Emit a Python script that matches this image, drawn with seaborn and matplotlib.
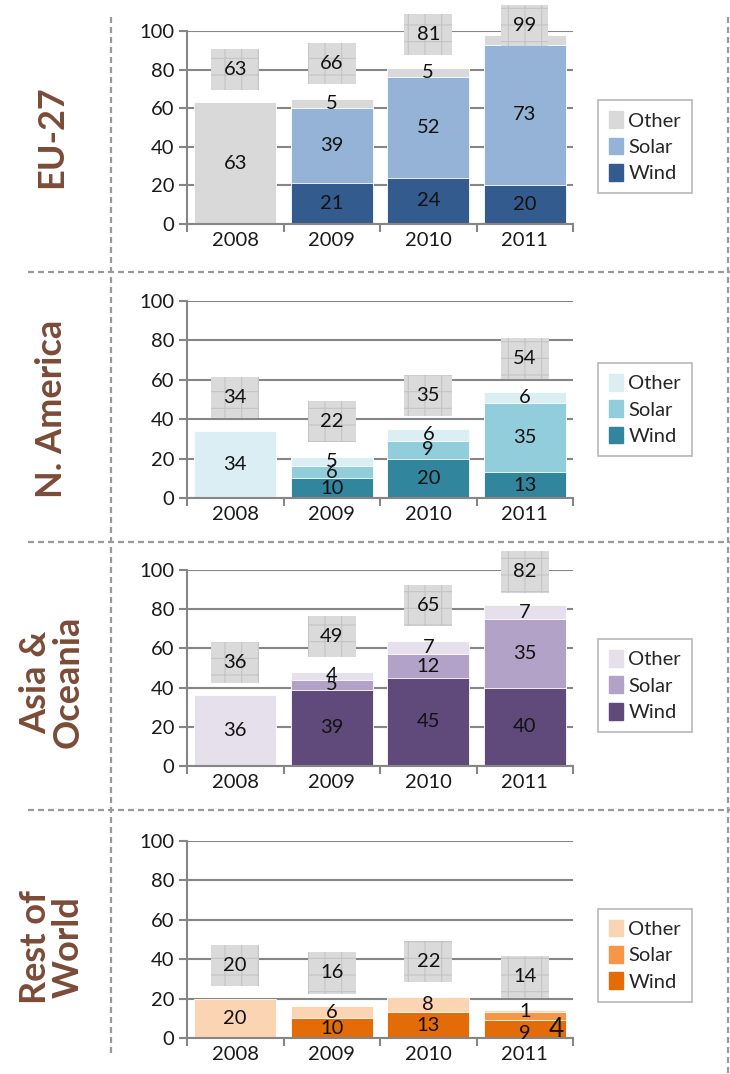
import matplotlib
matplotlib.use("Agg")
import matplotlib.pyplot as plt
import seaborn as sns
import numpy as np
from matplotlib.patches import Patch
from matplotlib.lines import Line2D

years = ["2008", "2009", "2010", "2011"]
series = ["Wind", "Solar", "Other"]

eu_wind = [0, 21, 24, 20]
eu_solar = [0, 39, 52, 73]
eu_other = [63, 5, 5, 5]
eu_total = [63, 66, 81, 99]

na_wind = [0, 10, 20, 13]
na_solar = [0, 6, 9, 35]
na_other = [34, 5, 6, 6]
na_total = [34, 22, 35, 54]

as_wind = [0, 39, 45, 40]
as_solar = [0, 5, 12, 35]
as_other = [36, 4, 7, 7]
as_total = [36, 49, 65, 82]

rw_wind = [0, 10, 13, 9]
rw_solar = [0, 0, 0, 4]
rw_other = [20, 6, 8, 1]
rw_total = [20, 16, 22, 14]

regions = ["EU-27", "N. America", "Asia &\nOceania", "Rest of\nWorld"]
colors = [
    ["#335b8e", "#95b3d7", "#d9d9d9"],
    ["#31859c", "#92cddc", "#daeef3"],
    ["#604a7b", "#b3a2c7", "#e5e0ec"],
    ["#e36c09", "#f79646", "#fbd4b4"],
]
panels = [
    (eu_wind, eu_solar, eu_other, eu_total),
    (na_wind, na_solar, na_other, na_total),
    (as_wind, as_solar, as_other, as_total),
    (rw_wind, rw_solar, rw_other, rw_total),
]

sns.set_theme(style="white")
plt.rcParams["font.family"] = ["Lato", "DejaVu Sans"]
plt.rcParams["hatch.linewidth"] = 0.8

fig = plt.figure(figsize=(7.3, 10.74), dpi=100)

# axes boxes in pixels (top of 100, bottom of 0)
ypix = [(31, 224), (301, 498), (570, 766), (841, 1038)]
label_y = [137, 409, 682, 947]
legend_y = [0.40, 0.45, 0.41, 0.42]
grey = "#868686"
fs = 14.5

for i, (wind, solar, other, total) in enumerate(panels):
    top, bot = ypix[i]
    ax = fig.add_axes([187 / 730, 1 - bot / 1074, 386 / 730, (bot - top) / 1074])
    w = np.array(wind)
    s = np.array(solar)
    o = np.array(other)
    cw, cs, co = colors[i]
    # stacked by overlaying cumulative sums
    sns.barplot(x=years, y=w + s + o, color=co, saturation=1, width=0.85, ax=ax,
                zorder=2, linewidth=0.6, edgecolor="white")
    sns.barplot(x=years, y=w + s, color=cs, saturation=1, width=0.85, ax=ax,
                zorder=2, linewidth=0.6, edgecolor="white")
    sns.barplot(x=years, y=w, color=cw, saturation=1, width=0.85, ax=ax,
                zorder=2, linewidth=0.6, edgecolor="white")

    ax.set_ylim(0, 100)
    ax.set_xlim(-0.5, 3.5)
    ax.set_yticks(range(0, 101, 20))
    ax.yaxis.grid(True, color=grey, lw=1.5, zorder=1)
    ax.set_axisbelow(True)
    ax.set_xlabel("")
    ax.set_ylabel("")
    for sp in ["top", "right"]:
        ax.spines[sp].set_visible(False)
    for sp in ["left", "bottom"]:
        ax.spines[sp].set_color(grey)
        ax.spines[sp].set_linewidth(1.5)
        ax.spines[sp].set_zorder(3)
    ax.tick_params(axis="y", length=6, width=1.5, color=grey, direction="out",
                   labelsize=fs, labelcolor="#1a1a1a", pad=3, left=True)
    ax.set_xticks([-0.5, 0.5, 1.5, 2.5, 3.5], minor=True)
    ax.tick_params(axis="x", which="major", length=0, labelsize=fs,
                   labelcolor="#1a1a1a", pad=6)
    ax.tick_params(axis="x", which="minor", length=6, width=1.5, color=grey,
                   direction="out", bottom=True)

    # segment labels
    for j in range(4):
        base = 0
        for k, v in enumerate([w[j], s[j], o[j]]):
            if v > 0:
                xx, yy, size = j, base + v / 2, fs
                if i == 3 and j == 3 and k == 1:
                    xx, yy, size = j + 0.33, 4.5, 19
                elif i == 3 and j == 3 and k == 0:
                    yy = 2.5
                ax.text(xx, yy, str(v), ha="center", va="center", fontsize=size,
                        color="#111111", zorder=4)
            base += v
        # total boxes
        ty = min(total[j] + 17, 103)
        ax.text(j, ty, str(total[j]), ha="center", va="center", fontsize=fs,
                color="#111111", zorder=6, clip_on=False,
                bbox=dict(boxstyle="square,pad=0.6", fc="#dadada",
                          ec="#c4c4c4", lw=0, hatch="+"))

    handles = [Patch(color=c) for c in [co, cs, cw]]
    leg = ax.legend(handles, ["Other", "Solar", "Wind"], loc="center left",
                    bbox_to_anchor=(1.065, legend_y[i]), fontsize=14.5,
                    frameon=True, fancybox=False, edgecolor="#a6a6a6",
                    handlelength=0.7, handleheight=0.9, handletextpad=0.25,
                    borderpad=0.55, labelspacing=0.4, borderaxespad=0)
    leg.get_frame().set_linewidth(1.2)

    fig.text(52 / 730, 1 - label_y[i] / 1074, regions[i], rotation=90,
             ha="center", va="center", multialignment="center",
             fontsize=26, fontweight="bold", color="#7b4b37", linespacing=1.0)

# dashed frame lines
dash = dict(color="#9a9a9a", lw=1.6, linestyle=(0, (2.7, 1.8)))
for yy in [272, 542, 810]:
    fig.add_artist(Line2D([28 / 730, 1], [1 - yy / 1074] * 2,
                          transform=fig.transFigure, **dash))
fig.add_artist(Line2D([111 / 730] * 2, [1 - 17 / 1074, 1 - 1055 / 1074],
                      transform=fig.transFigure, **dash))
fig.add_artist(Line2D([728 / 730] * 2, [1 - 17 / 1074, 0],
                      transform=fig.transFigure, **dash))

fig.savefig("out.png", dpi=100)
